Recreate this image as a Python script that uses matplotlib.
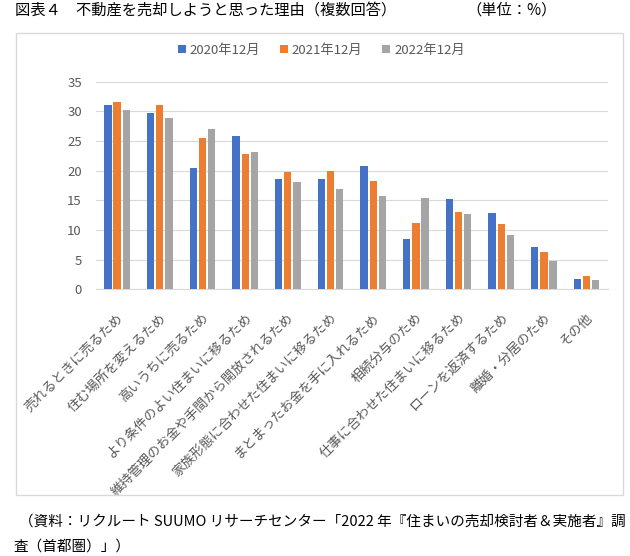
import matplotlib
matplotlib.use("Agg")
import matplotlib.pyplot as plt
import matplotlib.transforms as mtransforms
import numpy as np
from matplotlib.patches import Rectangle

plt.rcParams['font.family'] = ['Noto Sans CJK JP', 'DejaVu Sans']

reasons = ["売れるときに売るため", "住む場所を変えるため", "高いうちに売るため",
           "より条件のよい住まいに移るため", "維持管理のお金や手間から開放されるため",
           "家族形態に合わせた住まいに移るため", "まとまったお金を手に入れるため",
           "相続分与のため", "仕事に合わせた住まいに移るため", "ローンを返済するため",
           "離婚・分居のため", "その他"]
series_names = ["2020年12月", "2021年12月", "2022年12月"]
v2020 = [31.0, 29.7, 20.5, 25.9, 18.6, 18.6, 20.8, 8.5, 15.3, 12.9, 7.2, 1.8]
v2021 = [31.6, 31.1, 25.5, 22.8, 19.8, 20.0, 18.3, 11.1, 13.1, 11.0, 6.3, 2.2]
v2022 = [30.3, 28.9, 27.0, 23.2, 18.1, 16.9, 15.7, 15.4, 12.7, 9.1, 4.8, 1.6]
colors = ["#4472C4", "#ED7D31", "#A5A5A5"]

fig = plt.figure(figsize=(6.3, 5.56), dpi=100)
fig.patch.set_facecolor("white")

# chart frame
fig.patches.append(Rectangle((0.0254, 0.1097), 0.9635, 0.831, transform=fig.transFigure,
                             fill=False, edgecolor="#D9D9D9", linewidth=1.0))

ax = fig.add_axes([0.152, 0.4797, 0.813, 0.3733])
x = np.arange(len(reasons))
w = 0.17
step = 0.215
for i, (vals, name) in enumerate(zip([v2020, v2021, v2022], series_names)):
    ax.bar(x + (i - 1) * step, vals, width=w, color=colors[i], label=name, zorder=3)

ax.set_xlim(-0.5, len(reasons) - 0.5)
ax.set_ylim(0, 35)
ax.set_yticks(range(0, 36, 5))
ax.yaxis.grid(True, color="#D9D9D9", linewidth=0.8, zorder=0)
for s in ["top", "right", "left"]:
    ax.spines[s].set_visible(False)
ax.spines["bottom"].set_color("#D9D9D9")
ax.tick_params(axis="both", length=0, colors="#595959", labelsize=9.5)
ax.tick_params(axis="y", pad=10)
ax.set_xticks(x)
ax.set_xticklabels(reasons, rotation=45, ha="right", va="center",
                   rotation_mode="anchor", fontsize=9.5, color="#595959")
ax.tick_params(axis="x", pad=16)
# nudge the slanted labels a little right/down like the original
shift = mtransforms.ScaledTranslation(0.04, -0.04, fig.dpi_scale_trans)
for lbl in ax.get_xticklabels():
    lbl.set_transform(lbl.get_transform() + shift)

fig.legend(loc="center", bbox_to_anchor=(0.51, 0.91), ncol=3, frameon=False,
           fontsize=9.5, handlelength=0.6, handleheight=0.6, columnspacing=1.5,
           handletextpad=0.3, labelcolor="#595959")

fig.text(0.024, 0.982, "図表４　不動産を売却しようと思った理由（複数回答）", fontsize=11, va="center")
fig.text(0.74, 0.982, "（単位：%）", fontsize=11, va="center")
fig.text(0.03, 0.061, "（資料：リクルート SUUMO リサーチセンター「2022 年『住まいの売却検討者＆実施者』調",
         fontsize=10.5, va="center")
fig.text(0.022, 0.017, "査（首都圏）」）", fontsize=10.5, va="center")

fig.savefig("out.png", dpi=100)
